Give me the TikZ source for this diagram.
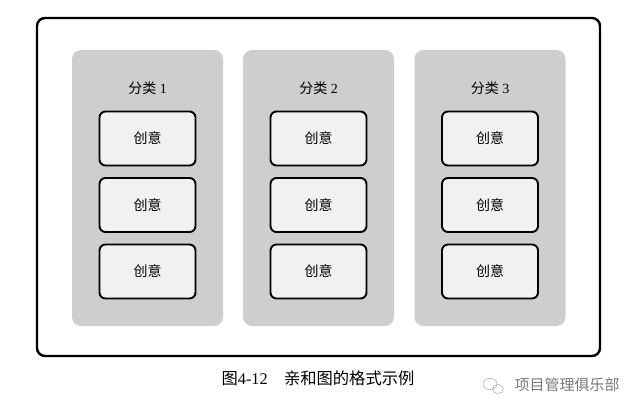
\documentclass[tikz,border=0pt]{standalone}
\usepackage{fontspec}
\setmainfont{Liberation Serif}
\newfontfamily\cjk{Noto Sans CJK SC}
\definecolor{catgray}{RGB}{206,206,206}
\definecolor{ideafill}{RGB}{241,241,241}
\definecolor{markgray}{RGB}{120,120,120}
\begin{document}
\begin{tikzpicture}[x=1pt, y=-1pt,
  outerbox/.style={draw, line width=2.4pt, rounded corners=8pt, minimum width=563pt, minimum height=338pt, inner sep=0pt},
  catbox/.style={fill=catgray, rounded corners=9pt, minimum width=151pt, minimum height=276pt, inner sep=0pt},
  ideabox/.style={draw, fill=ideafill, line width=1.9pt, rounded corners=6pt, minimum width=96pt, minimum height=54pt, inner sep=0pt, font=\cjk\fontsize{14}{16}\selectfont},
  catlabel/.style={font=\fontsize{14}{16}\selectfont}]
\useasboundingbox (0,0) rectangle (640,415);
\node[outerbox] (frame) at (318.5,187) {};
\foreach \i/\x in {1/147.5,2/318.5,3/490} {
  \node[catbox] (c\i) at (\x,188) {};
  \node[catlabel] (l\i) at (\x,88) {{\cjk 分类} \i};
  \foreach \j/\y in {1/138.5,2/205,3/271.5}
    \node[ideabox] (i\i\j) at (\x,\y) {创意};
}
% caption and watermark
\node[font=\fontsize{16.3}{18}\selectfont] (cap) at (318,378) {{\cjk 图}4-12\quad{\cjk 亲和图的格式示例}};
\node[text=markgray, font=\cjk\fontsize{15}{17}\selectfont, anchor=west] (mark) at (511,385) {项目管理俱乐部};
\draw[markgray!60, line width=0.6pt] (490,384) ellipse (7pt and 5.5pt);
\draw[markgray!60, line width=0.6pt] (498,389) ellipse (5.5pt and 4.5pt);
\end{tikzpicture}
\end{document}
